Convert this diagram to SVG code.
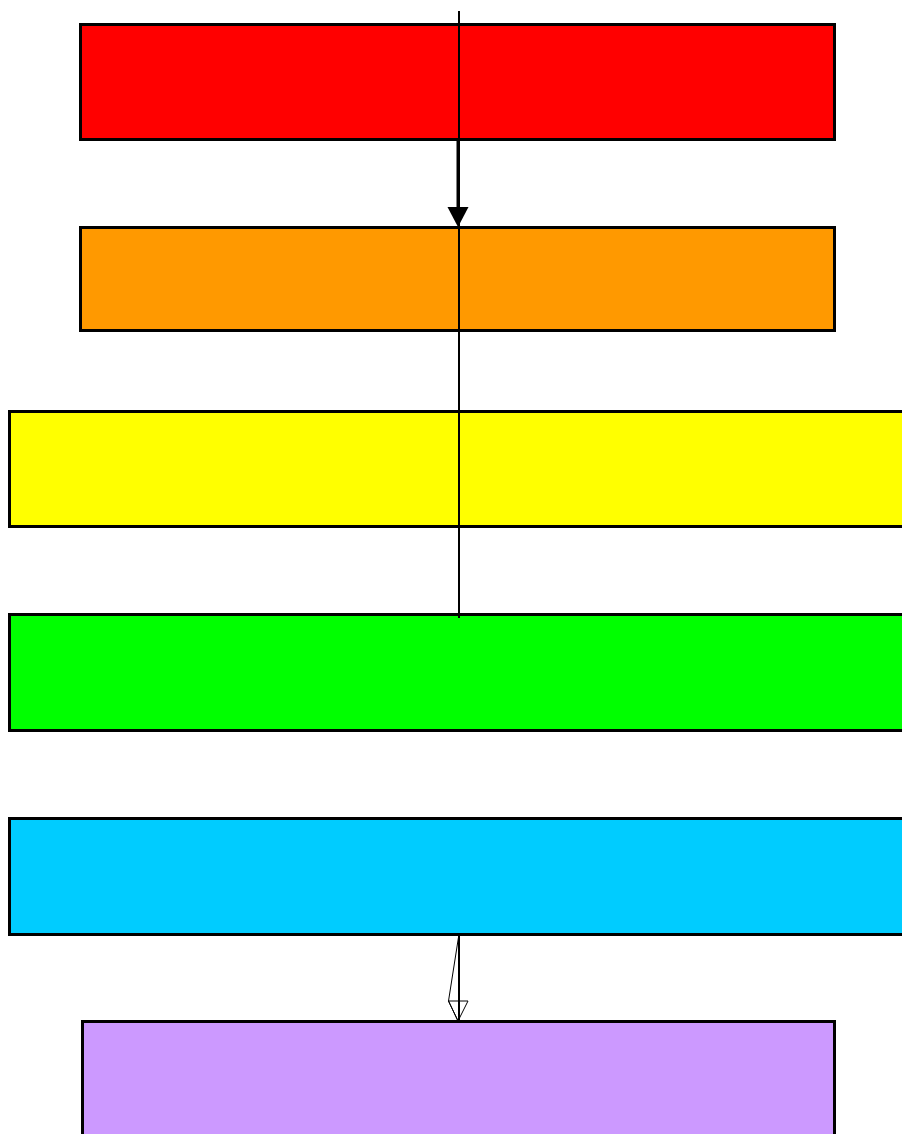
<svg xmlns="http://www.w3.org/2000/svg" width="902" height="1134" viewBox="0 0 902 1134">
  <style>
    .box { stroke: #000; stroke-width: 3; }
    .thin { stroke: #000; stroke-width: 2; fill: none; }
    .thick { stroke: #000; stroke-width: 3; fill: none; }
  </style>
  <defs>
    <marker id="solidHead" markerUnits="userSpaceOnUse" markerWidth="22" markerHeight="22" refX="20" refY="10" orient="auto" viewBox="0 0 22 20">
      <path d="M0,0 L20,10 L0,20 Z" fill="#000"/>
    </marker>
  </defs>
  <rect width="902" height="1134" fill="#fff"/>
  <g id="node-red"><rect class="box" x="80.5" y="24.5" width="754" height="115" fill="#FF0000"/></g>
  <g id="node-orange"><rect class="box" x="80.5" y="227.5" width="754" height="103" fill="#FF9900"/></g>
  <g id="node-yellow"><rect class="box" x="9.5" y="411.5" width="900" height="115" fill="#FFFF00"/></g>
  <g id="node-green"><rect class="box" x="9.5" y="614.5" width="900" height="116" fill="#00FF00"/></g>
  <g id="node-cyan"><rect class="box" x="9.5" y="818.5" width="900" height="116" fill="#00CCFF"/></g>
  <g id="node-purple"><rect class="box" x="82.5" y="1021.5" width="752" height="120" fill="#CC99FF"/></g>
  <g id="connectors">
    <line class="thin" x1="459" y1="11" x2="459" y2="618"/>
    <line class="thick" x1="458" y1="139" x2="458" y2="208"/>
    <path d="M447.5,207 L468.5,207 L458,227 Z" fill="#000"/>
    <line class="thin" x1="459" y1="934" x2="459" y2="1021"/>
    <path d="M459,934 L448.5,1001 L458,1021" fill="none" stroke="#000" stroke-width="1"/>
    <path d="M448.5,1001 L468,1001 L458,1021 Z" fill="#fff" fill-opacity="0" stroke="#000" stroke-width="1"/>
  </g>
</svg>
